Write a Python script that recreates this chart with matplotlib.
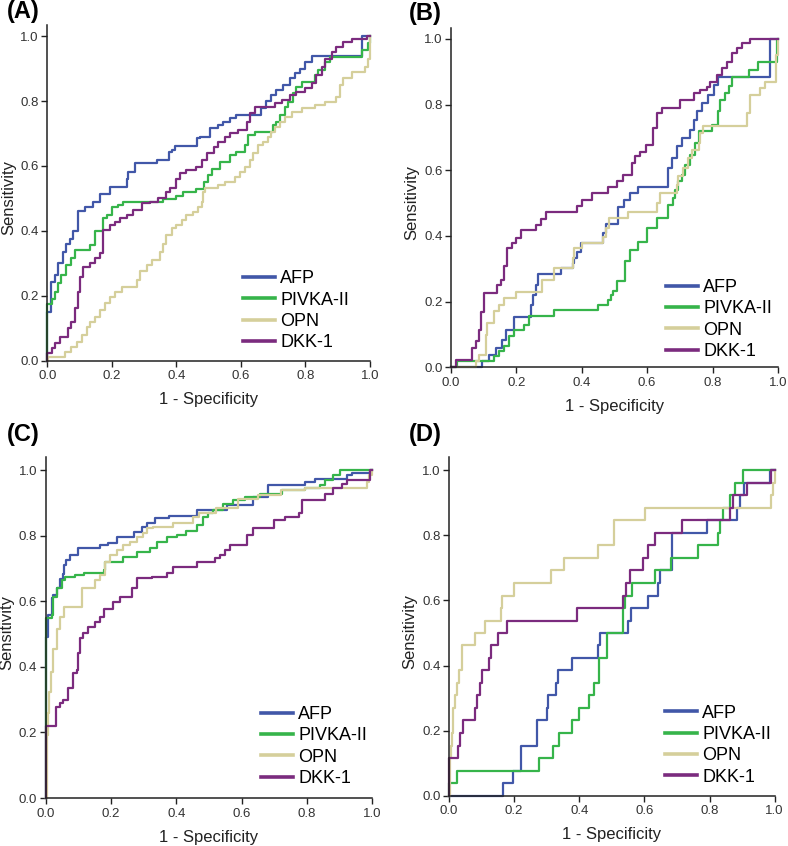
import matplotlib
matplotlib.use('Agg')
import matplotlib.pyplot as plt
from matplotlib.lines import Line2D

plt.rcParams['font.family'] = ['Liberation Sans', 'DejaVu Sans']

markers = ['AFP', 'PIVKA-II', 'OPN', 'DKK-1']
colors = ['#4157a8', '#36b44a', '#d5cf9b', '#7b2b7e']
ticks = [0.0, 0.2, 0.4, 0.6, 0.8, 1.0]

# ---- panel A ----
a_afp_x = [0, 0.0, 0.013, 0.024, 0.034, 0.049, 0.059, 0.071, 0.08, 0.096, 0.117, 0.143, 0.164, 0.195, 0.246, 0.251, 0.272, 0.34, 0.376, 0.387, 0.397, 0.464, 0.474, 0.504, 0.53, 0.545, 0.566, 0.586, 0.663, 0.679, 0.694, 0.71, 0.731, 0.752, 0.767, 0.783, 0.798, 0.819, 0.974, 1.0]
a_afp_y = [0, 0.15, 0.244, 0.265, 0.30, 0.336, 0.361, 0.376, 0.40, 0.462, 0.473, 0.488, 0.514, 0.536, 0.56, 0.582, 0.61, 0.618, 0.644, 0.649, 0.66, 0.685, 0.69, 0.716, 0.726, 0.736, 0.747, 0.757, 0.78, 0.80, 0.818, 0.834, 0.85, 0.87, 0.885, 0.90, 0.92, 0.938, 1.0, 1.0]
a_pivka_x = [0, 0.0, 0.0135, 0.024, 0.034, 0.044, 0.059, 0.075, 0.085, 0.132, 0.148, 0.174, 0.184, 0.20, 0.22, 0.236, 0.36, 0.40, 0.42, 0.46, 0.485, 0.499, 0.51, 0.535, 0.566, 0.586, 0.612, 0.623, 0.643, 0.70, 0.71, 0.721, 0.736, 0.747, 0.762, 0.772, 0.788, 0.829, 0.839, 0.86, 0.876, 0.974, 0.995, 1.0]
a_pivka_y = [0, 0.175, 0.19, 0.213, 0.238, 0.264, 0.295, 0.315, 0.34, 0.356, 0.40, 0.44, 0.449, 0.473, 0.479, 0.488, 0.497, 0.507, 0.52, 0.53, 0.55, 0.572, 0.592, 0.613, 0.633, 0.644, 0.664, 0.695, 0.705, 0.726, 0.736, 0.757, 0.783, 0.798, 0.824, 0.844, 0.86, 0.88, 0.895, 0.921, 0.936, 0.957, 0.98, 1.0]
a_opn_x = [0, 0.003, 0.055, 0.075, 0.091, 0.107, 0.122, 0.132, 0.148, 0.164, 0.179, 0.195, 0.21, 0.231, 0.277, 0.287, 0.308, 0.323, 0.349, 0.359, 0.369, 0.385, 0.40, 0.416, 0.431, 0.452, 0.468, 0.478, 0.483, 0.489, 0.53, 0.55, 0.581, 0.597, 0.612, 0.628, 0.638, 0.653, 0.669, 0.684, 0.694, 0.705, 0.721, 0.736, 0.757, 0.788, 0.829, 0.86, 0.896, 0.907, 0.917, 0.943, 0.984, 0.995, 1.0]
a_opn_y = [0, 0.012, 0.027, 0.043, 0.058, 0.079, 0.105, 0.12, 0.136, 0.156, 0.177, 0.197, 0.213, 0.228, 0.249, 0.275, 0.295, 0.311, 0.336, 0.361, 0.387, 0.408, 0.418, 0.433, 0.449, 0.459, 0.474, 0.49, 0.52, 0.531, 0.541, 0.551, 0.567, 0.582, 0.598, 0.618, 0.639, 0.664, 0.675, 0.69, 0.705, 0.721, 0.736, 0.752, 0.767, 0.777, 0.788, 0.798, 0.813, 0.849, 0.87, 0.89, 0.905, 0.93, 1.0]
a_dkk_x = [0, 0.0, 0.0135, 0.024, 0.039, 0.065, 0.075, 0.085, 0.096, 0.101, 0.112, 0.132, 0.148, 0.164, 0.174, 0.195, 0.21, 0.226, 0.246, 0.267, 0.293, 0.318, 0.344, 0.369, 0.38, 0.40, 0.41, 0.431, 0.462, 0.478, 0.494, 0.515, 0.53, 0.551, 0.566, 0.592, 0.618, 0.628, 0.643, 0.705, 0.726, 0.752, 0.772, 0.798, 0.819, 0.834, 0.85, 0.86, 0.881, 0.896, 0.917, 0.943, 0.99, 1.0]
a_dkk_y = [0, 0.023, 0.038, 0.054, 0.074, 0.1, 0.12, 0.161, 0.213, 0.259, 0.29, 0.3, 0.316, 0.331, 0.403, 0.418, 0.428, 0.439, 0.449, 0.464, 0.485, 0.49, 0.5, 0.521, 0.531, 0.561, 0.577, 0.587, 0.598, 0.618, 0.639, 0.659, 0.675, 0.69, 0.7, 0.71, 0.736, 0.762, 0.783, 0.793, 0.803, 0.818, 0.829, 0.839, 0.854, 0.88, 0.905, 0.93, 0.951, 0.967, 0.982, 0.99, 1.0, 1.0]

# ---- panel B ----
b_afp_x = [0, 0.097, 0.117, 0.138, 0.158, 0.168, 0.194, 0.244, 0.25, 0.26, 0.268, 0.336, 0.372, 0.377, 0.387, 0.397, 0.464, 0.474, 0.512, 0.529, 0.548, 0.573, 0.665, 0.675, 0.69, 0.705, 0.731, 0.742, 0.752, 0.767, 0.787, 0.803, 0.818, 0.976, 1.0]
b_afp_y = [0, 0.018, 0.038, 0.058, 0.084, 0.114, 0.152, 0.19, 0.22, 0.251, 0.283, 0.301, 0.317, 0.332, 0.352, 0.378, 0.408, 0.435, 0.489, 0.51, 0.53, 0.55, 0.606, 0.637, 0.673, 0.698, 0.723, 0.754, 0.78, 0.804, 0.829, 0.86, 0.885, 1.0, 1.0]
b_pivka_x = [0, 0.02, 0.132, 0.148, 0.163, 0.178, 0.194, 0.224, 0.239, 0.316, 0.45, 0.479, 0.489, 0.497, 0.507, 0.533, 0.548, 0.573, 0.599, 0.629, 0.665, 0.68, 0.685, 0.695, 0.705, 0.715, 0.731, 0.746, 0.757, 0.798, 0.818, 0.823, 0.838, 0.849, 0.859, 0.91, 0.94, 0.996, 1.0]
b_pivka_y = [0, 0.018, 0.034, 0.049, 0.064, 0.094, 0.114, 0.13, 0.155, 0.175, 0.19, 0.205, 0.22, 0.231, 0.262, 0.323, 0.358, 0.383, 0.424, 0.454, 0.495, 0.515, 0.54, 0.566, 0.586, 0.616, 0.647, 0.682, 0.718, 0.738, 0.779, 0.814, 0.834, 0.855, 0.885, 0.905, 0.93, 1.0, 1.0]
b_opn_x = [0, 0.077, 0.087, 0.107, 0.112, 0.132, 0.148, 0.163, 0.2, 0.28, 0.316, 0.372, 0.377, 0.402, 0.464, 0.474, 0.484, 0.543, 0.629, 0.639, 0.69, 0.695, 0.71, 0.726, 0.736, 0.757, 0.762, 0.77, 0.904, 0.914, 0.945, 0.96, 0.995, 1.0]
b_opn_y = [0, 0.018, 0.038, 0.099, 0.134, 0.17, 0.19, 0.211, 0.23, 0.266, 0.301, 0.332, 0.362, 0.378, 0.398, 0.423, 0.454, 0.474, 0.5, 0.53, 0.556, 0.581, 0.607, 0.637, 0.663, 0.683, 0.713, 0.736, 0.774, 0.83, 0.85, 0.87, 0.95, 1.0]
b_dkk_x = [0, 0.015, 0.066, 0.076, 0.087, 0.092, 0.102, 0.142, 0.153, 0.163, 0.173, 0.188, 0.198, 0.214, 0.26, 0.275, 0.29, 0.387, 0.402, 0.433, 0.479, 0.507, 0.527, 0.553, 0.563, 0.578, 0.598, 0.619, 0.63, 0.645, 0.701, 0.742, 0.762, 0.782, 0.792, 0.813, 0.828, 0.843, 0.859, 0.874, 0.889, 0.914, 1.0]
b_dkk_y = [0, 0.021, 0.058, 0.08, 0.114, 0.169, 0.227, 0.25, 0.266, 0.308, 0.364, 0.378, 0.393, 0.418, 0.434, 0.453, 0.473, 0.49, 0.51, 0.53, 0.55, 0.566, 0.586, 0.622, 0.642, 0.657, 0.677, 0.728, 0.773, 0.789, 0.814, 0.834, 0.845, 0.854, 0.87, 0.89, 0.91, 0.93, 0.956, 0.971, 0.987, 1.0, 1.0]

# ---- panel C ----
c_afp_x = [0, 0.0, 0.008, 0.018, 0.023, 0.034, 0.044, 0.054, 0.057, 0.062, 0.073, 0.1, 0.166, 0.192, 0.218, 0.27, 0.294, 0.309, 0.335, 0.376, 0.462, 0.554, 0.636, 0.682, 0.794, 0.825, 0.922, 0.937, 0.992, 1.0]
c_afp_y = [0, 0.492, 0.558, 0.609, 0.62, 0.639, 0.668, 0.684, 0.71, 0.725, 0.741, 0.762, 0.772, 0.777, 0.797, 0.812, 0.828, 0.838, 0.853, 0.86, 0.879, 0.893, 0.918, 0.954, 0.964, 0.974, 0.984, 0.99, 1.0, 1.0]
c_pivka_x = [0, 0.0, 0.018, 0.023, 0.034, 0.049, 0.059, 0.09, 0.116, 0.177, 0.182, 0.238, 0.279, 0.32, 0.34, 0.371, 0.401, 0.43, 0.462, 0.483, 0.498, 0.513, 0.544, 0.574, 0.61, 0.656, 0.722, 0.794, 0.84, 0.855, 0.88, 0.9, 1.0]
c_pivka_y = [0, 0.549, 0.558, 0.614, 0.64, 0.665, 0.675, 0.68, 0.685, 0.695, 0.72, 0.736, 0.751, 0.761, 0.782, 0.797, 0.802, 0.815, 0.832, 0.858, 0.868, 0.878, 0.898, 0.908, 0.918, 0.928, 0.938, 0.944, 0.954, 0.969, 0.984, 1.0, 1.0]
c_opn_x = [0, 0.005, 0.006, 0.011, 0.016, 0.023, 0.034, 0.044, 0.056, 0.11, 0.151, 0.166, 0.182, 0.197, 0.218, 0.238, 0.258, 0.279, 0.299, 0.309, 0.33, 0.39, 0.45, 0.47, 0.52, 0.59, 0.65, 0.72, 0.794, 0.985, 0.99, 1.0]
c_opn_y = [0, 0.192, 0.26, 0.323, 0.384, 0.456, 0.517, 0.553, 0.584, 0.639, 0.665, 0.68, 0.72, 0.741, 0.756, 0.772, 0.782, 0.797, 0.807, 0.822, 0.828, 0.838, 0.858, 0.868, 0.883, 0.913, 0.923, 0.938, 0.944, 0.964, 0.984, 1.0]
c_dkk_x = [0, 0.0, 0.031, 0.043, 0.054, 0.069, 0.085, 0.095, 0.1, 0.105, 0.115, 0.131, 0.151, 0.166, 0.177, 0.207, 0.228, 0.264, 0.279, 0.325, 0.371, 0.391, 0.462, 0.519, 0.535, 0.55, 0.565, 0.616, 0.636, 0.7, 0.734, 0.775, 0.785, 0.855, 0.88, 0.906, 0.922, 0.992, 1.0]
c_dkk_y = [0, 0.22, 0.278, 0.29, 0.30, 0.335, 0.38, 0.391, 0.442, 0.488, 0.503, 0.523, 0.538, 0.553, 0.578, 0.598, 0.614, 0.639, 0.67, 0.675, 0.685, 0.705, 0.721, 0.731, 0.741, 0.757, 0.772, 0.803, 0.823, 0.848, 0.858, 0.87, 0.908, 0.928, 0.944, 0.959, 0.969, 1.0, 1.0]

# ---- panel D ----
d_afp_x = [0, 0.167, 0.195, 0.22, 0.269, 0.3, 0.304, 0.33, 0.335, 0.378, 0.457, 0.465, 0.55, 0.56, 0.611, 0.642, 0.647, 0.684, 0.791, 0.885, 0.895, 0.905, 0.985, 1.0]
d_afp_y = [0, 0.038, 0.077, 0.154, 0.231, 0.269, 0.308, 0.346, 0.385, 0.423, 0.462, 0.5, 0.538, 0.577, 0.615, 0.654, 0.692, 0.808, 0.846, 0.885, 0.923, 0.962, 1.0, 1.0]
d_pivka_x = [0, 0.0, 0.025, 0.277, 0.318, 0.338, 0.379, 0.399, 0.43, 0.445, 0.461, 0.486, 0.534, 0.54, 0.561, 0.633, 0.683, 0.765, 0.827, 0.832, 0.842, 0.863, 0.878, 0.903, 1.0]
d_pivka_y = [0, 0.038, 0.077, 0.115, 0.154, 0.192, 0.231, 0.269, 0.308, 0.346, 0.423, 0.5, 0.577, 0.615, 0.654, 0.692, 0.731, 0.769, 0.808, 0.846, 0.885, 0.923, 0.962, 1.0, 1.0]
d_opn_x = [0, 0.003, 0.006, 0.009, 0.012, 0.017, 0.024, 0.03, 0.04, 0.08, 0.11, 0.159, 0.164, 0.2, 0.312, 0.353, 0.457, 0.506, 0.601, 0.99, 0.995, 1.0]
d_opn_y = [0, 0.115, 0.154, 0.192, 0.269, 0.308, 0.346, 0.385, 0.462, 0.5, 0.538, 0.577, 0.615, 0.654, 0.692, 0.731, 0.769, 0.846, 0.885, 0.923, 0.962, 1.0]
d_dkk_x = [0, 0.0, 0.028, 0.033, 0.043, 0.08, 0.085, 0.095, 0.1, 0.123, 0.13, 0.15, 0.177, 0.394, 0.535, 0.545, 0.556, 0.596, 0.612, 0.632, 0.714, 0.863, 0.873, 0.914, 0.99, 1.0]
d_dkk_y = [0, 0.115, 0.154, 0.192, 0.231, 0.269, 0.308, 0.346, 0.385, 0.423, 0.462, 0.5, 0.538, 0.577, 0.615, 0.654, 0.692, 0.731, 0.769, 0.808, 0.846, 0.885, 0.923, 0.962, 1.0, 1.0]

panels = [
    ('(A)', [a_afp_x, a_pivka_x, a_opn_x, a_dkk_x], [a_afp_y, a_pivka_y, a_opn_y, a_dkk_y]),
    ('(B)', [b_afp_x, b_pivka_x, b_opn_x, b_dkk_x], [b_afp_y, b_pivka_y, b_opn_y, b_dkk_y]),
    ('(C)', [c_afp_x, c_pivka_x, c_opn_x, c_dkk_x], [c_afp_y, c_pivka_y, c_opn_y, c_dkk_y]),
    ('(D)', [d_afp_x, d_pivka_x, d_opn_x, d_dkk_x], [d_afp_y, d_pivka_y, d_opn_y, d_dkk_y]),
]

# axes rectangles (figure fraction), y top limit, legend anchor, panel label position
rects = [[0.060, 0.5736, 0.4096, 0.3968], [0.572, 0.5658, 0.4154, 0.4011],
         [0.058, 0.0567, 0.4145, 0.4031], [0.5698, 0.0595, 0.4133, 0.4004]]
ytops = [1.034, 1.033, 1.04, 1.041]
leg_pos = [(0.606, 0.028), (0.657, 0.022), (0.658, 0.032), (0.662, 0.03)]
label_pos = [(0.009, 0.9787), (0.519, 0.9764), (0.009, 0.4787), (0.519, 0.4787)]

fig = plt.figure(figsize=(7.88, 8.46), dpi=100)

for (name, xs, ys), rect, ytop, lp, pl in zip(panels, rects, ytops, leg_pos, label_pos):
    ax = fig.add_axes(rect)
    for x, y, c in zip(xs, ys, colors):
        ax.step(x, y, where='post', color=c, lw=1.6, clip_on=False)
    ax.set_xlim(0, 1)
    ax.set_ylim(0, ytop)
    ax.set_xticks(ticks)
    ax.set_yticks(ticks)
    ax.set_xticklabels(['%.1f' % t for t in ticks])
    ax.set_yticklabels(['%.1f' % t for t in ticks])
    for s in ['top', 'right']:
        ax.spines[s].set_visible(False)
    for s in ['left', 'bottom']:
        ax.spines[s].set_color('#222222')
        ax.spines[s].set_linewidth(1.1)
    ax.tick_params(direction='out', length=4.5, width=1.0, color='#222222',
                   labelsize=9.5, labelcolor='#333333')
    ax.tick_params(axis='y', pad=1.5)
    ax.tick_params(axis='x', pad=2.5)
    ax.set_xlabel('1 - Specificity', fontsize=12, color='#222222')
    ax.set_ylabel('Sensitivity', fontsize=12, color='#222222')
    ax.xaxis.set_label_coords(0.5, -0.093)
    ax.yaxis.set_label_coords(-0.097, 0.485)

    handles = [Line2D([], [], color=c, lw=2.6) for c in colors]
    ax.legend(handles, markers, loc='lower left', bbox_to_anchor=lp, frameon=False,
              fontsize=13, handlelength=1.78, handletextpad=0.3, labelspacing=0.24,
              borderpad=0, borderaxespad=0)

    fig.text(pl[0], pl[1], name, fontsize=17, fontweight='bold', va='baseline')

fig.savefig('out.png', dpi=100)
